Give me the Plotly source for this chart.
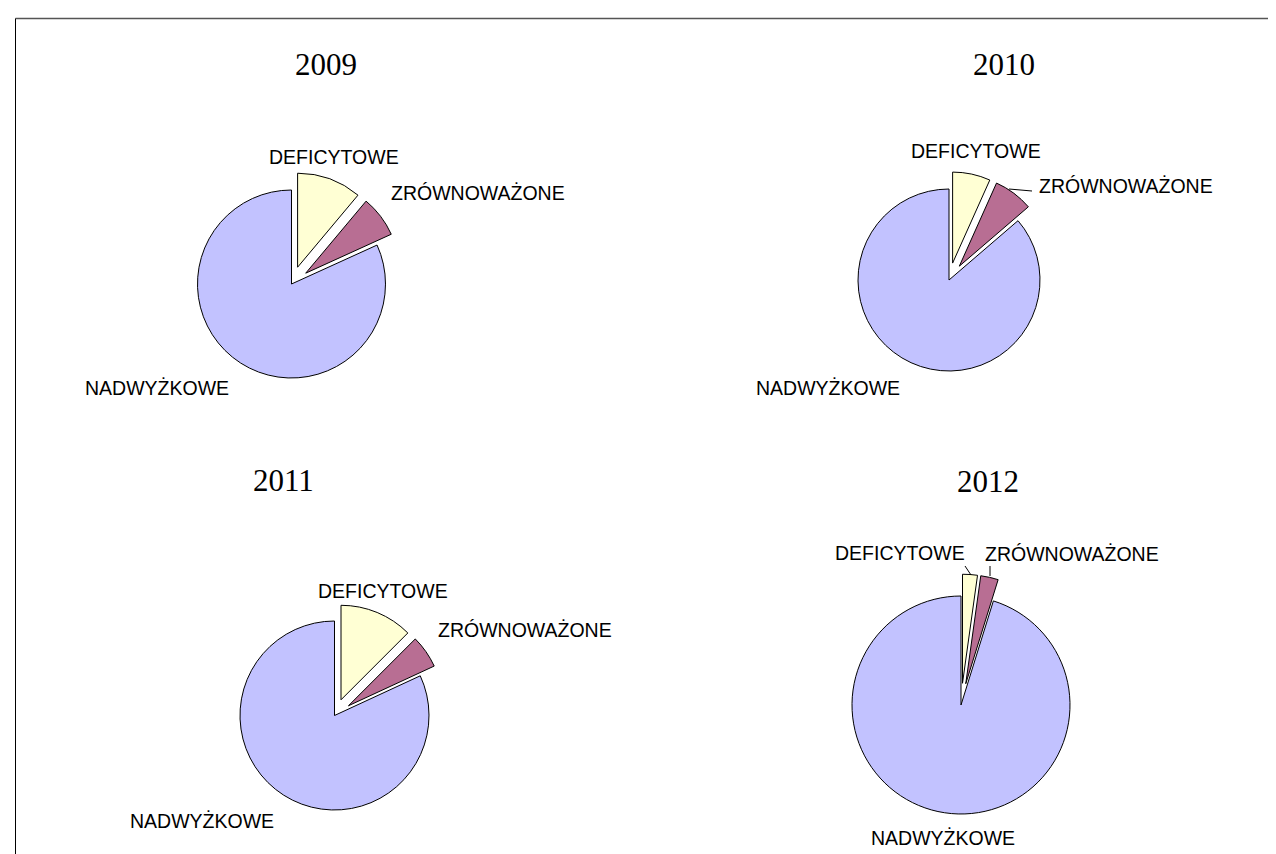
import plotly.graph_objects as go

W, H = 1276, 854

# ---- data ----
categories = ["DEFICYTOWE", "ZRÓWNOWAŻONE", "NADWYŻKOWE"]
years = ["2009", "2010", "2011", "2012"]
values_2009 = [11.1, 7.1, 81.8]
values_2010 = [6.7, 7.0, 86.3]
values_2011 = [12.5, 5.6, 81.9]
values_2012 = [2.2, 2.6, 95.2]
all_values = [values_2009, values_2010, values_2011, values_2012]

# ---- layout (pixels) ----
pie_centers = [(283.5, 276), (941, 272), (326.5, 707.5), (953, 697)]
pie_radii = [94, 91, 94.5, 109]
pulls = [0.19, 0.19, 0.18, 0.20]
title_pos = [(318, 57), (996, 57), (275, 473), (980, 474)]
label_pos = [
    [(326, 149), (470, 185), (148.5, 380)],
    [(968, 143), (1118, 178), (820, 380)],
    [(375, 583), (517, 622), (193.5, 813)],
    [(892, 545), (1064, 546), (934.5, 830)],
]
slice_colors = ["#FFFFD4", "#B86E93", "#C2C2FF"]


def px(x):
    return x / W


def py(y):
    return 1 - y / H


fig = go.Figure()
for i, vals in enumerate(all_values):
    cx, cy = pie_centers[i]
    half = pie_radii[i] * (1 + pulls[i])
    fig.add_trace(go.Pie(
        labels=categories,
        values=vals,
        sort=False,
        direction="clockwise",
        rotation=0,
        pull=[pulls[i], pulls[i], 0],
        textinfo="none",
        marker=dict(colors=slice_colors, line=dict(color="black", width=1)),
        domain=dict(x=[px(cx - half), px(cx + half)], y=[py(cy + half), py(cy - half)]),
        showlegend=False,
        name=years[i],
    ))

annotations = []
for i, yr in enumerate(years):
    tx, ty = title_pos[i]
    annotations.append(dict(
        x=px(tx), y=py(ty), xref="paper", yref="paper", text=yr, showarrow=False,
        xanchor="center", yanchor="middle",
        font=dict(family="Liberation Serif, Times New Roman, serif", size=31, color="black"),
    ))
    for j, cat in enumerate(categories):
        lx, ly = label_pos[i][j]
        annotations.append(dict(
            x=px(lx), y=py(ly), xref="paper", yref="paper", text=cat, showarrow=False,
            xanchor="center", yanchor="middle",
            font=dict(family="Liberation Sans, Arial, sans-serif", size=19.5, color="black"),
        ))

shapes = [
    # frame
    dict(type="line", xref="paper", yref="paper", x0=px(7.5), x1=1, y0=py(10.5), y1=py(10.5),
         line=dict(color="#555555", width=1.5)),
    dict(type="line", xref="paper", yref="paper", x0=px(7.5), x1=px(7.5), y0=py(10.5), y1=0,
         line=dict(color="black", width=1)),
    # leader lines
    dict(type="line", xref="paper", yref="paper", x0=px(1001), x1=px(1024), y0=py(181), y1=py(183),
         line=dict(color="black", width=1)),
    dict(type="line", xref="paper", yref="paper", x0=px(957), x1=px(963), y0=py(558), y1=py(567),
         line=dict(color="black", width=1)),
    dict(type="line", xref="paper", yref="paper", x0=px(982), x1=px(982), y0=py(558), y1=py(568),
         line=dict(color="black", width=1)),
]

fig.update_layout(
    width=W, height=H,
    margin=dict(l=0, r=0, t=0, b=0),
    paper_bgcolor="white",
    plot_bgcolor="white",
    annotations=annotations,
    shapes=shapes,
)

fig.write_html("out.html")
